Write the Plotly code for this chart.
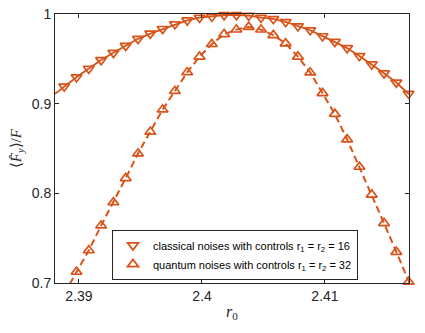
import plotly.graph_objects as go

# r0 sample positions (shared by both series)
r0 = [2.3888, 2.3898, 2.3908, 2.3918, 2.3928, 2.3938, 2.3948, 2.3958, 2.3968, 2.3978,
      2.3988, 2.3998, 2.4008, 2.4018, 2.4028, 2.4038, 2.4048, 2.4058, 2.4068, 2.4078,
      2.4088, 2.4098, 2.4108, 2.4118, 2.4128, 2.4138, 2.4148, 2.4158, 2.4168]

classical = [0.9192, 0.9295, 0.9391, 0.9487, 0.9568, 0.9646, 0.9723, 0.9782, 0.9834, 0.9886,
             0.9930, 0.9959, 0.9970, 0.9989, 0.9989, 0.9981, 0.9959, 0.9945, 0.9911, 0.9864,
             0.9819, 0.9753, 0.9690, 0.9620, 0.9532, 0.9439, 0.9339, 0.9236, 0.9111]

# quantum series (first sample lies below the visible range)
r0_quantum = r0[1:]
quantum = [0.7124, 0.7364, 0.7641, 0.7899, 0.8169, 0.8444, 0.8686, 0.8934, 0.9141,
           0.9350, 0.9524, 0.9664, 0.9775, 0.9826, 0.9856, 0.9826, 0.9764, 0.9671, 0.9524,
           0.9347, 0.9117, 0.8885, 0.8601, 0.8295, 0.7985, 0.7667, 0.7346, 0.7013]

# fitted curves drawn through the samples, extended to the axes edges
classical_fit_x = [2.38805] + r0 + [2.41683]
classical_fit_y = [0.9110] + classical + [0.9105]
quantum_fit_x = [2.3888] + r0_quantum + [2.41690]
quantum_fit_y = [0.6880] + quantum + [0.6990]

x_ticks = [2.39, 2.40, 2.41]
x_tick_text = ["2.39", "2.4", "2.41"]
y_ticks = [0.7, 0.8, 0.9, 1.0]
y_tick_text = ["0.7", "0.8", "0.9", "1"]

labels = ["classical noises with controls r<sub>1</sub> = r<sub>2</sub> = 16",
          "quantum noises with controls r<sub>1</sub> = r<sub>2</sub> = 32"]
x_title = "<i>r</i><sub>0</sub>"
y_title = "⟨<i>F̂</i><sub><i>y</i></sub>⟩/<i>F</i>"

color = "#D95319"
axis_color = "#262626"
serif = "Liberation Serif, Times New Roman, serif"
sans = "Liberation Sans, Arial, sans-serif"

fig = go.Figure()
fig.add_trace(go.Scatter(x=classical_fit_x, y=classical_fit_y, mode="lines",
                         line=dict(color=color, width=1.8), showlegend=False,
                         hoverinfo="skip"))
fig.add_trace(go.Scatter(x=quantum_fit_x, y=quantum_fit_y, mode="lines",
                         line=dict(color=color, width=2, dash="7px,4px"),
                         showlegend=False, hoverinfo="skip"))
fig.add_trace(go.Scatter(x=r0, y=classical, mode="markers", name=labels[0],
                         cliponaxis=False,
                         marker=dict(symbol="triangle-down-open", size=9.5, color=color,
                                     line=dict(width=1.7, color=color))))
fig.add_trace(go.Scatter(x=r0_quantum, y=quantum, mode="markers", name=labels[1],
                         cliponaxis=False,
                         marker=dict(symbol="triangle-up-open", size=9.5, color=color,
                                     line=dict(width=1.7, color=color))))

axis_common = dict(showline=True, linecolor=axis_color, linewidth=1, mirror="ticks",
                   ticks="inside", ticklen=4, tickcolor=axis_color, tickwidth=1,
                   showgrid=False, zeroline=False, automargin=False,
                   ticklabeloverflow="allow",
                   tickfont=dict(family=sans, size=14, color=axis_color))

fig.update_xaxes(range=[2.38805, 2.41683], tickvals=x_ticks, ticktext=x_tick_text,
                 **axis_common)
fig.update_yaxes(range=[0.7, 1.0], tickvals=y_ticks, ticktext=y_tick_text,
                 **axis_common)

fig.add_annotation(text=x_title, xref="paper", yref="paper", x=0.5, y=-0.152,
                   xanchor="center", yanchor="bottom", showarrow=False,
                   font=dict(family=serif, size=16, color=axis_color))
fig.add_annotation(text=y_title, xref="paper", yref="paper", x=-0.108, y=0.5,
                   xanchor="center", yanchor="middle", showarrow=False, textangle=-90,
                   font=dict(family=serif, size=15, color=axis_color))

# page body adds an 8px margin, so the figure is sized to fit the window
fig.update_layout(
    width=409, height=317,
    margin=dict(l=47, r=8, t=6, b=42),
    paper_bgcolor="white", plot_bgcolor="white",
    legend=dict(x=0.161, y=0.105, xanchor="left", yanchor="middle",
                bordercolor=axis_color, borderwidth=1, bgcolor="white",
                font=dict(family=sans, size=11, color="#000000")),
)

fig.write_html("out.html")
